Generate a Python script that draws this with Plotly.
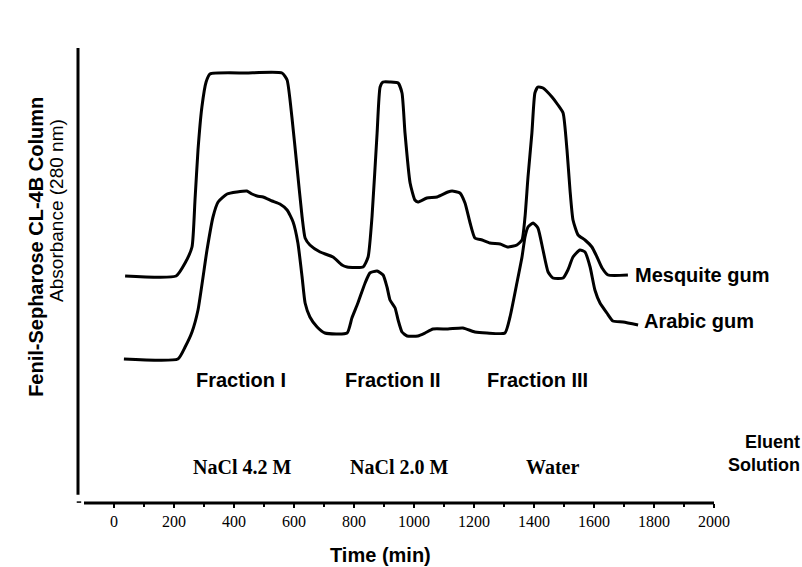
import plotly.graph_objects as go

# Elution profiles (time in min, absorbance in arbitrary units, traces offset)
mesquite_t = [37, 207, 237, 260, 270, 280, 293, 307, 320, 440, 560, 577, 593, 610, 627, 637, 653, 687, 730,
              760, 777, 830, 847, 860, 877, 887, 897, 920, 947, 960, 970, 987, 1003, 1013, 1043, 1077, 1113,
              1127, 1153, 1170, 1187, 1203, 1227, 1253, 1287, 1313, 1343, 1360, 1370, 1380, 1393, 1403, 1413,
              1430, 1460, 1480, 1497, 1510, 1520, 1530, 1547, 1570, 1593, 1610, 1627, 1647, 1713]
mesquite_a = [2.27, 2.27, 2.40, 2.56, 3.03, 3.53, 3.96, 4.21, 4.29, 4.30, 4.30, 4.23, 3.86, 3.36, 2.86, 2.65,
              2.58, 2.51, 2.46, 2.38, 2.36, 2.36, 2.46, 2.86, 3.70, 4.16, 4.21, 4.21, 4.20, 4.10, 3.70, 3.20,
              3.03, 3.01, 3.05, 3.06, 3.11, 3.12, 3.10, 3.00, 2.80, 2.65, 2.63, 2.60, 2.59, 2.56, 2.58, 2.63,
              2.86, 3.26, 3.70, 4.10, 4.16, 4.15, 4.06, 3.98, 3.90, 3.53, 3.13, 2.83, 2.68, 2.63, 2.56, 2.46,
              2.35, 2.28, 2.28]

arabic_t = [33, 213, 237, 260, 280, 310, 330, 347, 377, 410, 443, 460, 477, 497, 527, 553, 577, 597, 613, 627,
            637, 653, 677, 703, 777, 793, 813, 837, 853, 877, 897, 910, 920, 937, 947, 960, 977, 1013, 1037,
            1063, 1113, 1163, 1203, 1243, 1303, 1320, 1343, 1360, 1370, 1380, 1397, 1413, 1430, 1447, 1463,
            1497, 1513, 1530, 1553, 1570, 1587, 1603, 1620, 1643, 1663, 1697, 1747]
arabic_a = [1.44, 1.44, 1.56, 1.71, 1.93, 2.53, 2.86, 3.01, 3.09, 3.11, 3.12, 3.09, 3.07, 3.06, 3.02, 2.99,
            2.93, 2.81, 2.60, 2.26, 2.00, 1.86, 1.76, 1.70, 1.70, 1.85, 2.00, 2.20, 2.30, 2.32, 2.28, 2.16,
            2.03, 1.95, 1.83, 1.71, 1.67, 1.67, 1.70, 1.74, 1.74, 1.75, 1.71, 1.70, 1.70, 1.86, 2.20, 2.46,
            2.66, 2.76, 2.80, 2.75, 2.53, 2.31, 2.25, 2.25, 2.33, 2.46, 2.53, 2.51, 2.36, 2.13, 2.00, 1.90,
            1.82, 1.81, 1.78]

series_names = ["Mesquite gum", "Arabic gum"]
fraction_labels = ["Fraction I", "Fraction II", "Fraction III"]
fraction_t = [423, 930, 1413]
eluent_labels = ["NaCl 4.2 M", "NaCl 2.0 M", "Water"]
eluent_t = [427, 950, 1463]
tick_vals = list(range(0, 2001, 200))
minor_vals = list(range(100, 2000, 200))

fig = go.Figure()
line_style = dict(color="black", width=3, shape="spline", smoothing=0.5)
fig.add_trace(go.Scatter(x=mesquite_t, y=mesquite_a, mode="lines", line=line_style, name=series_names[0]))
fig.add_trace(go.Scatter(x=arabic_t, y=arabic_a, mode="lines", line=line_style, name=series_names[1]))

sans = "Liberation Sans"
annotations = []
annotations.append(dict(x=mesquite_t[-1] + 17, y=mesquite_a[-1], text="<b>" + series_names[0] + "</b>",
                        xanchor="left", yanchor="middle", showarrow=False,
                        font=dict(family=sans, size=20, color="black")))
annotations.append(dict(x=arabic_t[-1] + 13, y=arabic_a[-1] + 0.04, text="<b>" + series_names[1] + "</b>",
                        xanchor="left", yanchor="middle", showarrow=False,
                        font=dict(family=sans, size=20, color="black")))
for lab, t in zip(fraction_labels, fraction_t):
    annotations.append(dict(x=t, y=1.23, text="<b>" + lab + "</b>", showarrow=False,
                            xanchor="center", yanchor="middle",
                            font=dict(family=sans, size=20, color="black")))
for lab, t in zip(eluent_labels, eluent_t):
    annotations.append(dict(x=t, y=0.36, text="<b>" + lab + "</b>", showarrow=False,
                            xanchor="center", yanchor="middle",
                            font=dict(family="Liberation Serif", size=20, color="black")))
annotations.append(dict(x=1.138, xref="paper", y=0.50, text="<b>Eluent</b><br><b>Solution</b>",
                        showarrow=False, xanchor="right", yanchor="middle", align="right",
                        font=dict(family=sans, size=18, color="black")))
annotations.append(dict(x=-0.066, xref="paper", y=0.563, yref="paper",
                        text="<b>Fenil-Sepharose CL-4B Column</b>", textangle=-90, showarrow=False,
                        xanchor="center", yanchor="middle",
                        font=dict(family=sans, size=20, color="black")))
annotations.append(dict(x=-0.033, xref="paper", y=0.642, yref="paper",
                        text="Absorbance (280 nm)", textangle=-90, showarrow=False,
                        xanchor="center", yanchor="middle",
                        font=dict(family=sans, size=19, color="black")))
annotations.append(dict(x=0.476, xref="paper", y=-0.114, yref="paper",
                        text="<b>Time (min)</b>", showarrow=False,
                        xanchor="center", yanchor="middle",
                        font=dict(family=sans, size=20, color="black")))

shapes = [
    dict(type="line", xref="x", yref="paper", x0=-100, x1=2000, y0=0, y1=0,
         line=dict(color="black", width=3)),
    dict(type="line", xref="paper", yref="paper", x0=0, x1=0, y0=0.018, y1=1.0,
         line=dict(color="black", width=3)),
    dict(type="line", xref="paper", yref="paper", x0=-0.002, x1=0.005, y0=0.002, y1=0.002,
         line=dict(color="black", width=1.5)),
]

fig.update_layout(
    width=802, height=567,
    margin=dict(l=78, r=88, t=48, b=64),
    paper_bgcolor="white", plot_bgcolor="white",
    showlegend=False,
    annotations=annotations,
    shapes=shapes,
    xaxis=dict(range=[-120, 2000], showgrid=False, zeroline=False, showline=False,
               tickvals=tick_vals, ticktext=[str(v) for v in tick_vals],
               ticks="outside", ticklen=4, tickwidth=2, tickcolor="black",
               minor=dict(tickvals=minor_vals, ticks="outside", ticklen=3, tickwidth=2, tickcolor="black"),
               tickfont=dict(family="Liberation Serif", size=16, color="black")),
    yaxis=dict(range=[0, 4.55], visible=False),
)

fig.write_html("out.html")
